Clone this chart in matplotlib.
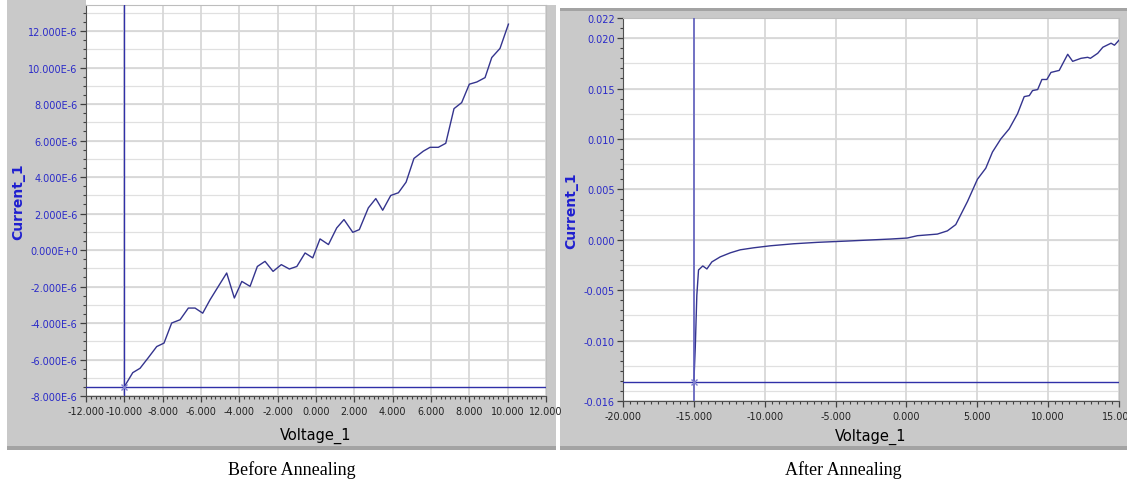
import matplotlib

matplotlib.use("Agg")
import matplotlib.pyplot as plt
import numpy as np
from matplotlib.patches import Rectangle
from matplotlib.ticker import MultipleLocator

# ---- I-V sweep before annealing (current in units of 1e-6 A) ----------------
before_v = [-10.0, -9.56, -9.18, -8.75, -8.31, -7.93, -7.53, -7.09, -6.66, -6.31,
            -5.91, -5.53, -5.10, -4.66, -4.26, -3.87, -3.44, -3.06, -2.66, -2.24,
            -1.81, -1.39, -1.00, -0.57, -0.17, 0.21, 0.65, 1.08, 1.46, 1.92,
            2.26, 2.73, 3.12, 3.48, 3.90, 4.30, 4.70, 5.11, 5.60, 5.95,
            6.38, 6.77, 7.20, 7.60, 8.00, 8.39, 8.82, 9.17, 9.60, 10.04]
before_i = [-7.49, -6.72, -6.48, -5.90, -5.29, -5.10, -4.00, -3.82, -3.18, -3.18,
            -3.46, -2.73, -2.00, -1.26, -2.63, -1.72, -1.99, -0.90, -0.62, -1.17,
            -0.80, -1.04, -0.90, -0.16, -0.43, 0.61, 0.30, 1.21, 1.67, 0.97,
            1.12, 2.31, 2.82, 2.18, 2.99, 3.14, 3.72, 5.02, 5.42, 5.63,
            5.63, 5.85, 7.75, 8.08, 9.09, 9.21, 9.45, 10.55, 11.05, 12.38]

# ---- I-V sweep after annealing (current in A) -------------------------------
after_v = [-15.0, -14.9, -14.79, -14.67, -14.37, -14.08, -13.73, -13.14, -12.43, -11.73,
           -10.78, -9.6, -7.96, -6.3, -4.18, -1.12, 0.06, 0.77, 2.18, 2.89,
           3.48, 4.31, 5.01, 5.6, 6.07, 6.66, 7.25, 7.84, 8.31, 8.67,
           8.9, 9.26, 9.56, 9.91, 10.2, 10.78, 11.38, 11.73, 12.32, 12.79,
           12.98, 13.5, 13.86, 14.44, 14.68, 15.0]
after_i = [-0.01415, -0.0107, -0.0055, -0.0030, -0.0026, -0.0029, -0.0022, -0.0017, -0.0013, -0.0010,
           -0.0008, -0.0006, -0.0004, -0.00026, -0.00013, 0.00007, 0.00017, 0.0004, 0.00056, 0.00088,
           0.0015, 0.0038, 0.0060, 0.0071, 0.0087, 0.0100, 0.0110, 0.0125, 0.0142, 0.0143,
           0.0148, 0.0149, 0.0159, 0.0159, 0.0166, 0.0168, 0.0184, 0.0177, 0.0180, 0.0181,
           0.0180, 0.0185, 0.0191, 0.0195, 0.0193, 0.0198]

# cursor positions
before_cursor = (-10.0, -7.49)
after_cursor = (-15.0, -0.01415)

before_xticks = [-12, -10, -8, -6, -4, -2, 0, 2, 4, 6, 8, 10, 12]
before_yticks = [-8, -6, -4, -2, 0, 2, 4, 6, 8, 10, 12]
before_ylabels = ["-8.000E-6", "-6.000E-6", "-4.000E-6", "-2.000E-6", "0.000E+0",
                  "2.000E-6", "4.000E-6", "6.000E-6", "8.000E-6", "10.000E-6", "12.000E-6"]
after_xticks = [-20, -15, -10, -5, 0, 5, 10, 15]
after_yticks = [-0.016, -0.010, -0.005, 0.0, 0.005, 0.010, 0.015, 0.020, 0.022]
after_ylabels = ["-0.016", "-0.010", "-0.005", "0.000", "0.005", "0.010", "0.015", "0.020", "0.022"]

W, H = 1127, 485
PANEL = "#c9c9c9"
EDGE = "#a3a3a3"
TICK_BLUE = "#2a2ac8"
LINE = "#34348e"
CURSOR = "#3030a8"

fig = plt.figure(figsize=(W / 100, H / 100), dpi=100)
fig.patch.set_facecolor("white")


def px_rect(x0, y0, x1, y1, color):
    fig.add_artist(Rectangle((x0 / W, 1 - y1 / H), (x1 - x0) / W, (y1 - y0) / H,
                             transform=fig.transFigure, facecolor=color,
                             edgecolor="none", zorder=-5))


# gray instrument panels behind each graph
px_rect(7, 0, 86, 448, PANEL)
px_rect(7, 6, 556, 448, PANEL)
px_rect(7, 447, 556, 451, EDGE)
px_rect(560, 9, 1127, 448, PANEL)
px_rect(560, 9, 1127, 12, EDGE)
px_rect(560, 447, 1127, 451, EDGE)


def make_axes(rect_px, hgrid_step):
    x0, y0, x1, y1 = rect_px
    ax = fig.add_axes([x0 / W, 1 - y1 / H, (x1 - x0) / W, (y1 - y0) / H])
    ax.set_facecolor("white")
    for side in ("top", "right"):
        ax.spines[side].set_color("#bdbdbd")
        ax.spines[side].set_linewidth(0.8)
    for side in ("left", "bottom"):
        ax.spines[side].set_color("#505050")
        ax.spines[side].set_linewidth(0.8)
    ax.tick_params(which="major", direction="out", length=4, width=0.9,
                   color="#404040", labelsize=7.0, labelcolor=TICK_BLUE, pad=2)
    ax.tick_params(which="minor", direction="out", length=2, width=0.8, color="#404040")
    ax.tick_params(axis="x", labelcolor="#222222", labelsize=6.9, pad=3)
    ax.grid(True, which="major", color="#d8d8d8", linewidth=1.3, zorder=0)
    ax.set_axisbelow(True)
    ax._hgrid_step = hgrid_step
    return ax


def add_hgrid(ax):
    lo, hi = ax.get_ylim()
    step = ax._hgrid_step
    for y in np.arange(np.ceil(lo / step) * step, hi, step):
        ax.axhline(y, color="#e0e0e0", linewidth=0.9, zorder=0.5)


# ---- before annealing --------------------------------------------------------
ax1 = make_axes((86, 6, 546, 397), 1.0)
ax1.plot(before_v, before_i, color=LINE, linewidth=1.0, zorder=3)
ax1.axvline(before_cursor[0], color=CURSOR, linewidth=1.0, zorder=4)
ax1.axhline(before_cursor[1], color=CURSOR, linewidth=1.0, zorder=4)
ax1.plot(*before_cursor, marker="x", color="#8080d0", markersize=5, mew=1, zorder=5)
ax1.set_xlim(-12, 12)
ax1.set_ylim(-8, 13.43)
ax1.set_xticks(before_xticks)
ax1.set_xticklabels([f"{v:.3f}" for v in before_xticks])
ax1.set_yticks(before_yticks)
ax1.set_yticklabels(before_ylabels)
ax1.xaxis.set_minor_locator(MultipleLocator(0.25))
ax1.yaxis.set_minor_locator(MultipleLocator(0.5))
add_hgrid(ax1)
ax1.set_xlabel("Voltage_1", fontsize=10.5, color="black", labelpad=8)
ax1.set_ylabel("Current_1", fontsize=10, color="#1f1fd0", fontweight="bold", labelpad=2)

# ---- after annealing ---------------------------------------------------------
ax2 = make_axes((623, 19, 1119, 402), 0.0025)
ax2.plot(after_v, after_i, color=LINE, linewidth=1.0, zorder=3)
ax2.axvline(after_cursor[0], color="#6060c0", linewidth=1.2, zorder=4)
ax2.axhline(after_cursor[1], color=CURSOR, linewidth=1.0, zorder=4)
ax2.plot(*after_cursor, marker="x", color="#8080d0", markersize=5, mew=1, zorder=5)
ax2.set_xlim(-20, 15)
ax2.set_ylim(-0.016, 0.022)
ax2.set_xticks(after_xticks)
ax2.set_xticklabels([f"{v:.3f}" for v in after_xticks])
ax2.set_yticks(after_yticks)
ax2.set_yticklabels(after_ylabels)
ax2.xaxis.set_minor_locator(MultipleLocator(0.5))
ax2.yaxis.set_minor_locator(MultipleLocator(0.001))
add_hgrid(ax2)
ax2.set_xlabel("Voltage_1", fontsize=10.5, color="black", labelpad=5)
ax2.set_ylabel("Current_1", fontsize=10, color="#1f1fd0", fontweight="bold", labelpad=4)

# captions under each panel
fig.text(292 / W, 1 - 470 / H, "Before Annealing", family="Liberation Serif",
         fontsize=13, ha="center", va="center")
fig.text(843 / W, 1 - 470 / H, "After Annealing", family="Liberation Serif",
         fontsize=13, ha="center", va="center")

fig.savefig("out.png", dpi=100)
